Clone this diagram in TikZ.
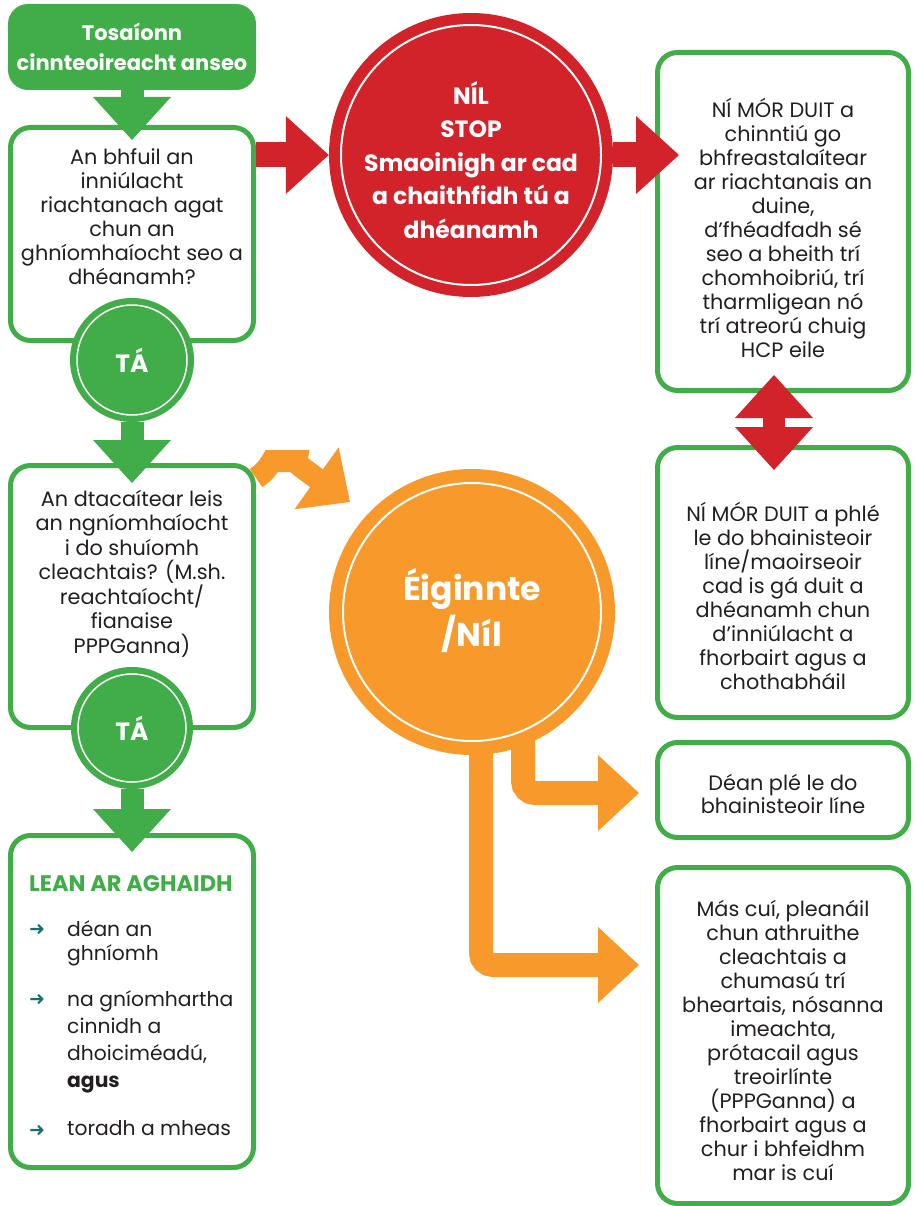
\documentclass[tikz,border=0pt]{standalone}
\usepackage{fontspec}
\setmainfont{Poppins}
\newfontfamily\symfont{DejaVu Sans}
\usetikzlibrary{arrows.meta}

\definecolor{hsegreen}{HTML}{41AD49}
\definecolor{hsered}{HTML}{D2232A}
\definecolor{hseorange}{HTML}{F7992B}
\definecolor{hsetext}{HTML}{231F20}
\definecolor{hseteal}{HTML}{16706B}

\tikzset{
  Bighead/.tip={Triangle[length=43pt,width=78pt,line width=0pt]},
  Orhead/.tip={Triangle[length=41pt,width=76pt,line width=0pt]},
}

\begin{document}
\begin{tikzpicture}[x=1pt,y=-1pt,
  box/.style={draw=hsegreen,line width=5pt,rounded corners=20pt,fill=white,inner sep=0pt},
  txt/.style={align=center,text=hsetext,font=\fontsize{20.8}{24}\selectfont},
  item/.style={align=left,text=hsetext,anchor=north west,inner sep=0pt,font=\fontsize{20.3}{24}\selectfont},
  bul/.style={text=hseteal,inner sep=0pt,font=\symfont\bfseries\fontsize{19}{19}\selectfont},
  ctxt/.style={align=center,text=white,font=\bfseries\fontsize{23.5}{33.5}\selectfont},
  disc/.style={circle,inner sep=0pt},
  gband/.style={draw=hsegreen,line width=23pt,-Bighead},
  rband/.style={draw=hsered,line width=25pt,-Bighead},
  oband/.style={draw=hseorange,line width=24pt,rounded corners=12pt,-Orhead}]

  \useasboundingbox (0,0) rectangle (914,1206);

  % left column
  \node[fill=hsegreen,rounded corners=20pt,minimum width=248pt,minimum height=86pt,
        text=white,align=center,font=\bfseries\fontsize{21}{30}\selectfont] (start) at (132,47)
        {Tosaíonn\\cinnteoireacht anseo};
  \node[box,minimum width=243pt,minimum height=213pt] (q1) at (132,234) {};
  \node[box,minimum width=243pt,minimum height=262pt] (q2) at (132,596.5) {};
  \node[box,minimum width=243pt,minimum height=332pt] (go) at (132,1001.5) {};

  % right column
  \node[box,minimum width=251pt,minimum height=338pt] (r1) at (783,221.5) {};
  \node[box,minimum width=251pt,minimum height=270pt] (r2) at (783,582.5) {};
  \node[box,minimum width=251pt,minimum height=95pt] (r3) at (783,790) {};
  \node[box,minimum width=251pt,minimum height=336pt] (r4) at (783,1035.5) {};

  \node[txt] (q1txt) at (132,217) {An bhfuil an\\inniúlacht\\riachtanach agat\\chun an\\ghníomhaíocht seo a\\dhéanamh?};
  \node[txt,font=\fontsize{20.8}{24.5}\selectfont] (q2txt) at (132,573.5) {An dtacaítear leis\\an ngníomhaíocht\\i do shuíomh\\cleachtais? (M.sh.\\reachtaíocht/\\fianaise\\PPPGanna)};
  \node[txt] (r1txt) at (783,227.5) {NÍ MÓR DUIT a\\chinntiú go\\bhfreastalaítear\\ar riachtanais an\\duine,\\d’fhéadfadh sé\\seo a bheith trí\\chomhoibriú, trí\\tharmligean nó\\trí atreorú chuig\\HCP eile};
  \node[txt] (r2txt) at (783,596) {NÍ MÓR DUIT a phlé\\le do bhainisteoir\\líne/maoirseoir\\cad is gá duit a\\dhéanamh chun\\d’inniúlacht a\\fhorbairt agus a\\chothabháil};
  \node[txt,font=\fontsize{20.8}{23}\selectfont] (r3txt) at (783,793.5) {Déan plé le do\\bhainisteoir líne};
  \node[txt] (r4txt) at (783,1040.5) {Más cuí, pleanáil\\chun athruithe\\cleachtais a\\chumasú trí\\bheartais, nósanna\\imeachta,\\prótacail agus\\treoirlínte\\(PPPGanna) a\\fhorbairt agus a\\chur i bhfeidhm\\mar is cuí};

  % list
  \node[anchor=west,inner sep=0pt,text=hsegreen,font=\bfseries\fontsize{22.5}{24}\selectfont] (gotitle) at (29,884) {LEAN AR AGHAIDH};
  \node[bul] (b1) at (37,930) {➜};
  \node[bul] (b2) at (37,1000) {➜};
  \node[bul] (b3) at (37,1131) {➜};
  \node[item] (i1) at (67,920) {déan an\\ghníomh};
  \node[item,font=\fontsize{20.3}{27}\selectfont] (i2) at (67,990) {na gníomhartha\\cinnidh a\\dhoiciméadú,\\\textbf{agus}};
  \node[item] (i3) at (67,1120) {toradh a mheas};

  % orange branches
  \coordinate (tipA) at (639,793);
  \coordinate (tipB) at (639,965);
  \coordinate (tipC) at (350,502);
  \draw[oband] (523,640) |- (tipA);
  \draw[oband] (481,640) |- (tipB);
  \draw[oband,line width=22pt] ([yshift=-15pt]q2.north east) .. controls (266,472) and (272,461) .. (284,461)
        .. controls (294,461) and (300,466) .. (312,475) -- (tipC);

  % circles
  \node[disc,fill=hsered,minimum size=284pt] (stop) at (471,155) {};
  \draw[white,line width=2pt] (stop.center) circle[radius=130];
  \node[ctxt] (stoptxt) at (471,160) {NÍL\\STOP\\Smaoinigh ar cad\\a chaithfidh tú a\\dhéanamh};

  \node[disc,fill=hseorange,minimum size=286pt] (unsure) at (472,612) {};
  \draw[white,line width=2pt] (unsure.center) circle[radius=129];
  \node[ctxt,font=\bfseries\fontsize{33}{46}\selectfont] (unsuretxt) at (472,610) {Éiginnte\\/Níl};

  \node[disc,fill=hsegreen,minimum size=124pt,text=white,font=\bfseries\fontsize{25}{25}\selectfont] (ta1) at (132,360) {TÁ};
  \draw[white,line width=1.5pt] (ta1.center) circle[radius=55];
  \node[disc,fill=hsegreen,minimum size=122pt,text=white,font=\bfseries\fontsize{25}{25}\selectfont] (ta2) at (132,728) {TÁ};
  \draw[white,line width=1.5pt] (ta2.center) circle[radius=54];

  % arrows
  \draw[gband,shorten >=-15pt] (start.south) -- (q1.north);
  \draw[gband,shorten >=-20pt] (ta1.south) -- (q2.north);
  \draw[gband,shorten >=-19pt] (ta2.south) -- (go.north);
  \draw[rband] (q1.east |- stop.west) -- (stop.west);
  \draw[rband,shorten >=-24pt] (stop.east) -- (r1.west |- stop.east);
  \coordinate (dtop) at (774,375);
  \coordinate (dbot) at (774,470);
  \draw[draw=hsered,line width=22pt,Bighead-Bighead] (dtop) -- (dbot);
\end{tikzpicture}
\end{document}
